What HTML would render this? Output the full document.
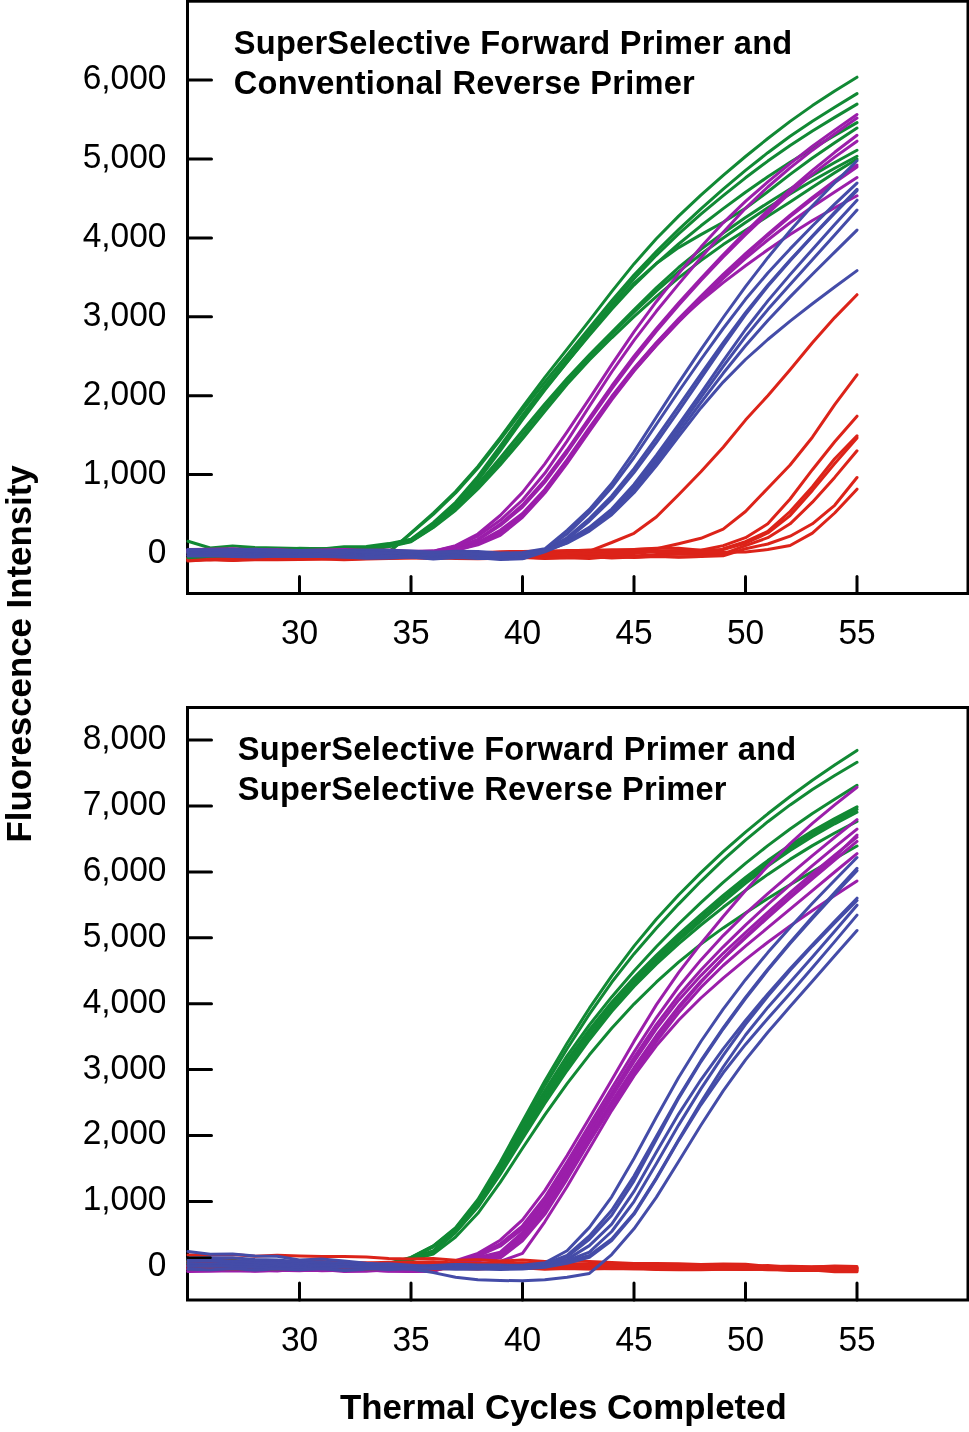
<!DOCTYPE html>
<html><head><meta charset="utf-8"><title>Fluorescence Intensity vs Thermal Cycles</title>
<style>
html,body{margin:0;padding:0;background:#fff;}
svg{display:block;}
.tk{font-family:"Liberation Sans",Arial,sans-serif;font-size:35px;fill:#000;}
.tt{font-family:"Liberation Sans",Arial,sans-serif;font-size:32.6px;font-weight:bold;fill:#000;letter-spacing:0.25px;}
.lab{font-family:"Liberation Sans",Arial,sans-serif;font-size:34.8px;font-weight:bold;fill:#000;}
</style></head>
<body>
<svg width="969" height="1432" viewBox="0 0 969 1432">
<rect width="969" height="1432" fill="#fff"/>
<rect x="187.5" y="1.2" width="780.5" height="592.3" fill="none" stroke="#000" stroke-width="3"/>
<line x1="187.5" y1="553.5" x2="211.5" y2="553.5" stroke="#000" stroke-width="3" stroke-linecap="round"/>
<text transform="translate(166.5 562.5) scale(0.957 1)" class="tk" text-anchor="end">0</text>
<line x1="187.5" y1="474.6" x2="211.5" y2="474.6" stroke="#000" stroke-width="3" stroke-linecap="round"/>
<text transform="translate(166.5 483.6) scale(0.957 1)" class="tk" text-anchor="end">1,000</text>
<line x1="187.5" y1="395.7" x2="211.5" y2="395.7" stroke="#000" stroke-width="3" stroke-linecap="round"/>
<text transform="translate(166.5 404.7) scale(0.957 1)" class="tk" text-anchor="end">2,000</text>
<line x1="187.5" y1="316.8" x2="211.5" y2="316.8" stroke="#000" stroke-width="3" stroke-linecap="round"/>
<text transform="translate(166.5 325.8) scale(0.957 1)" class="tk" text-anchor="end">3,000</text>
<line x1="187.5" y1="237.9" x2="211.5" y2="237.9" stroke="#000" stroke-width="3" stroke-linecap="round"/>
<text transform="translate(166.5 246.9) scale(0.957 1)" class="tk" text-anchor="end">4,000</text>
<line x1="187.5" y1="159.0" x2="211.5" y2="159.0" stroke="#000" stroke-width="3" stroke-linecap="round"/>
<text transform="translate(166.5 167.9) scale(0.957 1)" class="tk" text-anchor="end">5,000</text>
<line x1="187.5" y1="80.1" x2="211.5" y2="80.1" stroke="#000" stroke-width="3" stroke-linecap="round"/>
<text transform="translate(166.5 89.1) scale(0.957 1)" class="tk" text-anchor="end">6,000</text>
<line x1="299.5" y1="593.5" x2="299.5" y2="576.5" stroke="#000" stroke-width="3" stroke-linecap="round"/>
<text transform="translate(299.5 643.5) scale(0.957 1)" class="tk" text-anchor="middle">30</text>
<line x1="411.0" y1="593.5" x2="411.0" y2="576.5" stroke="#000" stroke-width="3" stroke-linecap="round"/>
<text transform="translate(411.0 643.5) scale(0.957 1)" class="tk" text-anchor="middle">35</text>
<line x1="522.5" y1="593.5" x2="522.5" y2="576.5" stroke="#000" stroke-width="3" stroke-linecap="round"/>
<text transform="translate(522.5 643.5) scale(0.957 1)" class="tk" text-anchor="middle">40</text>
<line x1="634.0" y1="593.5" x2="634.0" y2="576.5" stroke="#000" stroke-width="3" stroke-linecap="round"/>
<text transform="translate(634.0 643.5) scale(0.957 1)" class="tk" text-anchor="middle">45</text>
<line x1="745.5" y1="593.5" x2="745.5" y2="576.5" stroke="#000" stroke-width="3" stroke-linecap="round"/>
<text transform="translate(745.5 643.5) scale(0.957 1)" class="tk" text-anchor="middle">50</text>
<line x1="857.0" y1="593.5" x2="857.0" y2="576.5" stroke="#000" stroke-width="3" stroke-linecap="round"/>
<text transform="translate(857.0 643.5) scale(0.957 1)" class="tk" text-anchor="middle">55</text>
<polyline points="188.0,560.4 210.3,559.5 232.6,560.6 254.9,559.8 277.2,559.8 299.5,559.6 321.8,559.1 344.1,558.6 366.4,558.2 388.7,557.6 411.0,557.6 433.3,556.8 455.6,557.5 477.9,555.9 500.2,557.2 522.5,555.7 544.8,555.9 567.1,555.4 589.4,551.1 611.7,542.5 634.0,533.3 656.3,517.0 678.6,494.7 700.9,471.7 723.2,447.2 745.5,420.1 767.8,395.7 790.1,369.7 812.4,342.8 834.7,317.6 857.0,294.7" fill="none" stroke="#dc2319" stroke-width="3.0" stroke-linejoin="round" stroke-linecap="round"/>
<polyline points="188.0,559.5 210.3,559.8 232.6,558.3 254.9,558.1 277.2,557.6 299.5,557.3 321.8,557.0 344.1,555.7 366.4,555.9 388.7,555.4 411.0,554.3 433.3,553.9 455.6,554.2 477.9,553.0 500.2,553.1 522.5,551.5 544.8,550.9 567.1,551.0 589.4,549.9 611.7,550.8 634.0,549.5 656.3,548.8 678.6,543.7 700.9,538.3 723.2,529.2 745.5,511.5 767.8,488.2 790.1,465.0 812.4,437.2 834.7,404.6 857.0,374.8" fill="none" stroke="#dc2319" stroke-width="3.0" stroke-linejoin="round" stroke-linecap="round"/>
<polyline points="188.0,558.9 210.3,558.1 232.6,558.4 254.9,557.5 277.2,556.3 299.5,555.8 321.8,556.7 344.1,556.1 366.4,555.9 388.7,554.7 411.0,554.9 433.3,553.6 455.6,552.8 477.9,553.0 500.2,551.7 522.5,551.4 544.8,552.0 567.1,550.5 589.4,550.5 611.7,549.7 634.0,549.5 656.3,548.2 678.6,548.2 700.9,550.3 723.2,545.6 745.5,537.7 767.8,523.8 790.1,499.0 812.4,469.7 834.7,441.8 857.0,416.2" fill="none" stroke="#dc2319" stroke-width="3.0" stroke-linejoin="round" stroke-linecap="round"/>
<polyline points="188.0,557.7 210.3,558.5 232.6,557.6 254.9,558.0 277.2,558.0 299.5,558.9 321.8,557.4 344.1,559.1 366.4,558.6 388.7,558.2 411.0,557.5 433.3,558.6 455.6,557.2 477.9,556.9 500.2,558.4 522.5,557.6 544.8,558.6 567.1,557.8 589.4,558.4 611.7,556.6 634.0,557.6 656.3,556.5 678.6,556.8 700.9,556.6 723.2,548.8 745.5,541.7 767.8,531.4 790.1,511.5 812.4,486.7 834.7,458.8 857.0,435.9" fill="none" stroke="#dc2319" stroke-width="3.0" stroke-linejoin="round" stroke-linecap="round"/>
<polyline points="188.0,561.1 210.3,559.4 232.6,560.2 254.9,558.4 277.2,558.7 299.5,558.0 321.8,557.3 344.1,557.3 366.4,557.2 388.7,556.9 411.0,556.7 433.3,554.9 455.6,555.0 477.9,555.1 500.2,553.3 522.5,553.9 544.8,553.2 567.1,552.9 589.4,551.8 611.7,551.5 634.0,550.9 656.3,551.1 678.6,550.6 700.9,550.2 723.2,549.6 745.5,543.2 767.8,533.0 790.1,515.6 812.4,490.4 834.7,463.6 857.0,437.9" fill="none" stroke="#dc2319" stroke-width="3.0" stroke-linejoin="round" stroke-linecap="round"/>
<polyline points="188.0,558.3 210.3,559.1 232.6,558.0 254.9,559.3 277.2,559.0 299.5,557.9 321.8,557.8 344.1,557.8 366.4,557.8 388.7,557.0 411.0,557.2 433.3,556.4 455.6,556.6 477.9,556.3 500.2,556.0 522.5,555.1 544.8,555.3 567.1,555.8 589.4,554.8 611.7,554.7 634.0,555.9 656.3,554.5 678.6,554.1 700.9,554.0 723.2,553.9 745.5,545.6 767.8,537.7 790.1,523.8 812.4,502.2 834.7,477.4 857.0,450.8" fill="none" stroke="#dc2319" stroke-width="3.0" stroke-linejoin="round" stroke-linecap="round"/>
<polyline points="188.0,560.6 210.3,559.1 232.6,559.7 254.9,559.0 277.2,558.4 299.5,559.0 321.8,559.0 344.1,559.7 366.4,559.1 388.7,558.6 411.0,558.1 433.3,557.7 455.6,558.4 477.9,558.8 500.2,558.3 522.5,557.0 544.8,558.1 567.1,557.6 589.4,556.5 611.7,558.1 634.0,556.9 656.3,556.1 678.6,557.3 700.9,556.5 723.2,555.7 745.5,548.8 767.8,544.0 790.1,536.2 812.4,523.8 834.7,505.3 857.0,477.5" fill="none" stroke="#dc2319" stroke-width="3.0" stroke-linejoin="round" stroke-linecap="round"/>
<polyline points="188.0,558.7 210.3,558.2 232.6,558.0 254.9,558.4 277.2,558.6 299.5,558.7 321.8,557.5 344.1,557.3 366.4,556.7 388.7,556.4 411.0,556.0 433.3,555.6 455.6,554.9 477.9,554.7 500.2,554.5 522.5,554.5 544.8,554.5 567.1,552.8 589.4,553.7 611.7,553.6 634.0,553.5 656.3,551.5 678.6,552.7 700.9,552.0 723.2,552.2 745.5,551.9 767.8,549.6 790.1,545.5 812.4,533.1 834.7,513.0 857.0,489.2" fill="none" stroke="#dc2319" stroke-width="3.0" stroke-linejoin="round" stroke-linecap="round"/>
<polyline points="188.0,541.2 210.3,548.0 232.6,546.1 254.9,547.4 277.2,548.0 299.5,548.6 321.8,548.9 344.1,549.6 366.4,550.3 388.7,552.7 411.0,532.8 433.3,513.1 455.6,491.6 477.9,466.5 500.2,437.7 522.5,407.1 544.8,377.4 567.1,349.1 589.4,320.6 611.7,291.6 634.0,263.9 656.3,238.8 678.6,216.1 700.9,195.1 723.2,175.3 745.5,156.5 767.8,138.5 790.1,121.4 812.4,105.6 834.7,91.0 857.0,77.2" fill="none" stroke="#118934" stroke-width="3.0" stroke-linejoin="round" stroke-linecap="round"/>
<polyline points="188.0,550.8 210.3,551.3 232.6,550.5 254.9,549.2 277.2,549.2 299.5,548.6 321.8,549.4 344.1,547.4 366.4,551.1 388.7,551.9 411.0,533.4 433.3,514.3 455.6,493.0 477.9,468.0 500.2,439.8 522.5,410.3 544.8,382.0 567.1,355.2 589.4,328.0 611.7,300.8 634.0,275.1 656.3,251.6 678.6,229.6 700.9,208.8 723.2,189.1 745.5,170.4 767.8,152.7 790.1,136.3 812.4,121.3 834.7,107.3 857.0,93.6" fill="none" stroke="#118934" stroke-width="3.0" stroke-linejoin="round" stroke-linecap="round"/>
<polyline points="188.0,552.0 210.3,551.1 232.6,550.6 254.9,550.3 277.2,548.6 299.5,549.4 321.8,549.1 344.1,546.8 366.4,546.4 388.7,543.6 411.0,539.3 433.3,522.6 455.6,502.3 477.9,476.4 500.2,446.1 522.5,415.2 544.8,386.3 567.1,359.1 589.4,331.8 611.7,304.6 634.0,278.8 656.3,255.3 678.6,233.9 700.9,214.2 723.2,195.6 745.5,177.8 767.8,161.1 790.1,145.5 812.4,131.0 834.7,117.4 857.0,104.1" fill="none" stroke="#118934" stroke-width="3.0" stroke-linejoin="round" stroke-linecap="round"/>
<polyline points="188.0,552.8 210.3,550.8 232.6,551.6 254.9,550.0 277.2,550.6 299.5,548.3 321.8,548.7 344.1,548.5 366.4,547.2 388.7,544.4 411.0,539.7 433.3,523.8 455.6,504.1 477.9,478.8 500.2,448.9 522.5,417.9 544.8,389.0 567.1,362.0 589.4,335.3 611.7,309.2 634.0,285.1 656.3,263.6 678.6,244.0 700.9,225.8 723.2,208.6 745.5,192.2 767.8,176.8 790.1,162.3 812.4,148.6 834.7,135.4 857.0,122.6" fill="none" stroke="#118934" stroke-width="3.0" stroke-linejoin="round" stroke-linecap="round"/>
<polyline points="188.0,552.4 210.3,552.1 232.6,551.7 254.9,551.1 277.2,549.5 299.5,550.3 321.8,548.8 344.1,548.9 366.4,548.0 388.7,545.2 411.0,540.1 433.3,524.7 455.6,505.5 477.9,480.7 500.2,450.9 522.5,419.7 544.8,390.0 567.1,362.0 589.4,334.1 611.7,307.2 634.0,283.4 656.3,263.5 678.6,247.6 700.9,234.6 723.2,222.3 745.5,208.3 767.8,191.7 790.1,174.4 812.4,158.0 834.7,142.7 857.0,128.1" fill="none" stroke="#118934" stroke-width="3.0" stroke-linejoin="round" stroke-linecap="round"/>
<polyline points="188.0,552.3 210.3,552.0 232.6,550.8 254.9,551.7 277.2,549.9 299.5,550.2 321.8,550.0 344.1,549.3 366.4,548.8 388.7,545.6 411.0,540.9 433.3,526.0 455.6,507.5 477.9,484.2 500.2,457.9 522.5,430.7 544.8,403.9 567.1,378.5 589.4,354.9 611.7,332.3 634.0,309.8 656.3,287.8 678.6,267.5 700.9,249.4 723.2,233.0 745.5,217.5 767.8,202.9 790.1,188.9 812.4,175.4 834.7,162.5 857.0,150.2" fill="none" stroke="#118934" stroke-width="3.0" stroke-linejoin="round" stroke-linecap="round"/>
<polyline points="188.0,552.3 210.3,552.6 232.6,552.6 254.9,551.3 277.2,550.7 299.5,550.0 321.8,550.5 344.1,548.8 366.4,549.2 388.7,546.0 411.0,541.3 433.3,526.9 455.6,509.0 477.9,486.8 500.2,461.6 522.5,434.9 544.8,407.4 567.1,380.9 589.4,356.7 611.7,334.2 634.0,312.2 656.3,291.1 678.6,271.6 700.9,254.2 723.2,238.0 745.5,222.5 767.8,207.8 790.1,193.9 812.4,180.7 834.7,168.2 857.0,156.2" fill="none" stroke="#118934" stroke-width="3.0" stroke-linejoin="round" stroke-linecap="round"/>
<polyline points="188.0,557.7 210.3,556.3 232.6,555.7 254.9,555.6 277.2,555.3 299.5,554.9 321.8,555.2 344.1,554.3 366.4,549.9 388.7,546.8 411.0,541.7 433.3,527.6 455.6,510.2 477.9,489.0 500.2,465.0 522.5,438.8 544.8,411.2 567.1,384.3 589.4,360.0 611.7,337.8 634.0,316.7 656.3,296.6 678.6,277.9 700.9,260.6 723.2,244.6 745.5,230.2 767.8,216.3 790.1,202.0 812.4,187.2 834.7,172.8 857.0,159.0" fill="none" stroke="#118934" stroke-width="3.0" stroke-linejoin="round" stroke-linecap="round"/>
<polyline points="188.0,549.6 210.3,549.3 232.6,548.7 254.9,550.1 277.2,550.0 299.5,550.4 321.8,550.1 344.1,549.6 366.4,550.4 388.7,550.0 411.0,551.2 433.3,551.1 455.6,545.6 477.9,534.0 500.2,515.5 522.5,492.4 544.8,463.8 567.1,431.9 589.4,398.6 611.7,364.6 634.0,331.9 656.3,301.7 678.6,273.6 700.9,247.1 723.2,222.8 745.5,201.3 767.8,181.9 790.1,163.6 812.4,146.3 834.7,130.1 857.0,114.5" fill="none" stroke="#9b1eaa" stroke-width="3.0" stroke-linejoin="round" stroke-linecap="round"/>
<polyline points="188.0,550.1 210.3,549.7 232.6,550.0 254.9,549.3 277.2,550.8 299.5,550.6 321.8,550.9 344.1,550.3 366.4,551.3 388.7,550.4 411.0,552.1 433.3,551.1 455.6,546.4 477.9,536.1 500.2,520.3 522.5,500.0 544.8,473.3 567.1,441.1 589.4,406.3 611.7,372.0 634.0,340.3 656.3,311.3 678.6,284.1 700.9,257.8 723.2,232.2 745.5,208.3 767.8,187.0 790.1,167.9 812.4,150.2 834.7,133.7 857.0,118.1" fill="none" stroke="#9b1eaa" stroke-width="3.0" stroke-linejoin="round" stroke-linecap="round"/>
<polyline points="188.0,550.7 210.3,550.0 232.6,550.6 254.9,551.6 277.2,551.9 299.5,551.2 321.8,552.3 344.1,552.0 366.4,551.8 388.7,552.3 411.0,553.3 433.3,551.9 455.6,548.0 477.9,539.3 500.2,524.1 522.5,505.0 544.8,480.0 567.1,450.0 589.4,417.9 611.7,386.0 634.0,356.2 656.3,328.7 678.6,303.0 700.9,278.4 723.2,254.7 745.5,232.0 767.8,210.4 790.1,189.7 812.4,170.3 834.7,152.3 857.0,135.3" fill="none" stroke="#9b1eaa" stroke-width="3.0" stroke-linejoin="round" stroke-linecap="round"/>
<polyline points="188.0,551.1 210.3,551.7 232.6,551.3 254.9,552.9 277.2,552.8 299.5,552.3 321.8,551.9 344.1,553.4 366.4,553.9 388.7,553.6 411.0,553.8 433.3,551.9 455.6,548.8 477.9,540.1 500.2,525.6 522.5,507.0 544.8,482.3 567.1,452.5 589.4,420.5 611.7,388.9 634.0,359.0 656.3,331.2 678.6,305.2 700.9,280.5 723.2,257.0 745.5,234.8 767.8,213.4 790.1,192.9 812.4,174.1 834.7,157.1 857.0,141.2" fill="none" stroke="#9b1eaa" stroke-width="3.0" stroke-linejoin="round" stroke-linecap="round"/>
<polyline points="188.0,552.8 210.3,553.5 232.6,554.2 254.9,554.6 277.2,554.3 299.5,555.0 321.8,554.1 344.1,554.7 366.4,554.7 388.7,555.2 411.0,555.3 433.3,552.7 455.6,549.6 477.9,542.5 500.2,530.3 522.5,513.5 544.8,489.5 567.1,459.7 589.4,427.6 611.7,396.5 634.0,368.3 656.3,342.7 678.6,318.9 700.9,296.2 723.2,274.4 745.5,253.7 767.8,234.1 790.1,215.2 812.4,197.4 834.7,180.8 857.0,165.0" fill="none" stroke="#9b1eaa" stroke-width="3.0" stroke-linejoin="round" stroke-linecap="round"/>
<polyline points="188.0,555.0 210.3,554.8 232.6,554.5 254.9,554.6 277.2,554.6 299.5,556.1 321.8,556.1 344.1,555.8 366.4,555.5 388.7,556.7 411.0,556.9 433.3,552.7 455.6,549.6 477.9,543.2 500.2,531.6 522.5,515.0 544.8,491.1 567.1,461.2 589.4,429.2 611.7,398.4 634.0,370.6 656.3,345.5 678.6,322.0 700.9,299.6 723.2,278.3 745.5,258.4 767.8,240.0 790.1,222.8 812.4,206.8 834.7,191.9 857.0,177.6" fill="none" stroke="#9b1eaa" stroke-width="3.0" stroke-linejoin="round" stroke-linecap="round"/>
<polyline points="188.0,551.3 210.3,550.7 232.6,551.0 254.9,550.9 277.2,552.0 299.5,551.0 321.8,551.3 344.1,552.8 366.4,551.9 388.7,552.2 411.0,552.0 433.3,552.7 455.6,550.3 477.9,544.0 500.2,533.8 522.5,515.9 544.8,491.9 567.1,462.0 589.4,429.8 611.7,398.1 634.0,368.9 656.3,343.1 678.6,320.6 700.9,300.8 723.2,282.6 745.5,265.8 767.8,249.8 790.1,234.6 812.4,220.5 834.7,207.7 857.0,195.8" fill="none" stroke="#9b1eaa" stroke-width="3.0" stroke-linejoin="round" stroke-linecap="round"/>
<polyline points="188.0,549.5 210.3,550.0 232.6,551.0 254.9,550.6 277.2,550.0 299.5,550.7 321.8,551.5 344.1,550.4 366.4,550.3 388.7,550.5 411.0,552.1 433.3,552.7 455.6,550.3 477.9,544.8 500.2,535.4 522.5,517.3 544.8,493.1 567.1,463.4 589.4,431.4 611.7,399.9 634.0,371.1 656.3,345.2 678.6,321.2 700.9,298.5 723.2,276.5 745.5,255.4 767.8,235.5 790.1,216.7 812.4,199.0 834.7,182.5 857.0,166.9" fill="none" stroke="#9b1eaa" stroke-width="3.0" stroke-linejoin="round" stroke-linecap="round"/>
<polyline points="188.0,549.8 210.3,550.3 232.6,549.7 254.9,549.4 277.2,550.3 299.5,550.4 321.8,551.5 344.1,550.8 366.4,550.2 388.7,550.6 411.0,551.1 433.3,552.5 455.6,551.3 477.9,551.6 500.2,553.1 522.5,552.5 544.8,548.8 567.1,530.3 589.4,509.4 611.7,483.5 634.0,451.9 656.3,417.3 678.6,382.9 700.9,349.7 723.2,317.5 745.5,286.6 767.8,257.7 790.1,230.8 812.4,205.8 834.7,182.7 857.0,160.8" fill="none" stroke="#444ca8" stroke-width="3.0" stroke-linejoin="round" stroke-linecap="round"/>
<polyline points="188.0,551.0 210.3,550.1 232.6,551.3 254.9,551.0 277.2,552.2 299.5,550.7 321.8,551.0 344.1,552.9 366.4,551.4 388.7,553.2 411.0,553.1 433.3,552.7 455.6,552.3 477.9,552.8 500.2,554.6 522.5,553.9 544.8,549.6 567.1,533.8 589.4,512.5 611.7,487.5 634.0,457.5 656.3,424.5 678.6,391.5 700.9,359.5 723.2,328.5 745.5,299.3 767.8,273.0 790.1,248.9 812.4,226.0 834.7,204.1 857.0,183.1" fill="none" stroke="#444ca8" stroke-width="3.0" stroke-linejoin="round" stroke-linecap="round"/>
<polyline points="188.0,551.0 210.3,552.3 232.6,551.4 254.9,551.4 277.2,551.6 299.5,552.8 321.8,552.7 344.1,552.7 366.4,553.2 388.7,553.2 411.0,554.8 433.3,554.5 455.6,555.2 477.9,553.9 500.2,555.1 522.5,554.7 544.8,550.3 567.1,537.7 589.4,518.6 611.7,496.0 634.0,468.6 656.3,438.0 678.6,406.2 700.9,374.2 723.2,342.6 745.5,312.7 767.8,285.3 790.1,260.1 812.4,235.9 834.7,212.4 857.0,189.4" fill="none" stroke="#444ca8" stroke-width="3.0" stroke-linejoin="round" stroke-linecap="round"/>
<polyline points="188.0,552.7 210.3,552.4 232.6,552.5 254.9,554.4 277.2,554.0 299.5,553.0 321.8,554.1 344.1,554.7 366.4,554.5 388.7,555.4 411.0,554.5 433.3,555.6 455.6,555.5 477.9,556.7 500.2,555.7 522.5,556.8 544.8,550.3 567.1,539.3 589.4,521.0 611.7,499.2 634.0,472.6 656.3,442.6 678.6,411.0 700.9,378.5 723.2,345.8 745.5,314.6 767.8,286.3 790.1,260.7 812.4,236.5 834.7,213.2 857.0,190.6" fill="none" stroke="#444ca8" stroke-width="3.0" stroke-linejoin="round" stroke-linecap="round"/>
<polyline points="188.0,553.2 210.3,554.7 232.6,555.2 254.9,554.9 277.2,555.3 299.5,555.0 321.8,555.7 344.1,555.9 366.4,556.5 388.7,556.5 411.0,555.5 433.3,556.9 455.6,556.3 477.9,556.3 500.2,556.6 522.5,558.0 544.8,551.1 567.1,540.9 589.4,527.3 611.7,509.1 634.0,484.4 656.3,455.3 678.6,424.7 700.9,393.2 723.2,360.9 745.5,329.5 767.8,300.9 790.1,274.6 812.4,249.4 834.7,224.6 857.0,200.2" fill="none" stroke="#444ca8" stroke-width="3.0" stroke-linejoin="round" stroke-linecap="round"/>
<polyline points="188.0,555.2 210.3,554.9 232.6,555.1 254.9,556.3 277.2,555.9 299.5,556.4 321.8,555.7 344.1,557.0 366.4,557.4 388.7,556.0 411.0,556.9 433.3,558.1 455.6,557.1 477.9,558.4 500.2,558.5 522.5,558.6 544.8,551.1 567.1,541.7 589.4,528.9 611.7,511.5 634.0,487.6 656.3,459.1 678.6,428.7 700.9,397.5 723.2,366.3 745.5,336.6 767.8,309.6 790.1,284.4 812.4,259.7 834.7,234.9 857.0,210.1" fill="none" stroke="#444ca8" stroke-width="3.0" stroke-linejoin="round" stroke-linecap="round"/>
<polyline points="188.0,555.9 210.3,555.7 232.6,556.5 254.9,557.0 277.2,555.9 299.5,556.4 321.8,556.6 344.1,557.0 366.4,558.2 388.7,557.9 411.0,557.0 433.3,558.9 455.6,557.6 477.9,557.8 500.2,559.6 522.5,558.7 544.8,551.9 567.1,542.5 589.4,530.0 611.7,513.2 634.0,490.2 656.3,462.5 678.6,432.7 700.9,402.6 723.2,373.3 745.5,345.8 767.8,320.5 790.1,296.9 812.4,274.3 834.7,252.1 857.0,230.1" fill="none" stroke="#444ca8" stroke-width="3.0" stroke-linejoin="round" stroke-linecap="round"/>
<polyline points="188.0,549.7 210.3,550.2 232.6,549.7 254.9,551.3 277.2,550.2 299.5,550.7 321.8,551.1 344.1,550.7 366.4,552.3 388.7,553.0 411.0,552.1 433.3,551.9 455.6,552.3 477.9,553.9 500.2,554.0 522.5,553.9 544.8,551.1 567.1,543.2 589.4,531.1 611.7,514.8 634.0,492.7 656.3,465.9 678.6,436.6 700.9,407.9 723.2,382.1 745.5,359.5 767.8,339.5 790.1,321.1 812.4,303.7 834.7,287.0 857.0,270.6" fill="none" stroke="#444ca8" stroke-width="3.0" stroke-linejoin="round" stroke-linecap="round"/>
<text x="233.8" y="53.6" class="tt">SuperSelective Forward Primer and</text>
<text x="233.8" y="94.2" class="tt">Conventional Reverse Primer</text>
<rect x="187.5" y="707.5" width="780.5" height="592.5" fill="none" stroke="#000" stroke-width="3"/>
<line x1="187.5" y1="1267.3" x2="211.5" y2="1267.3" stroke="#000" stroke-width="3" stroke-linecap="round"/>
<text transform="translate(166.5 1276.2) scale(0.957 1)" class="tk" text-anchor="end">0</text>
<line x1="187.5" y1="1201.4" x2="211.5" y2="1201.4" stroke="#000" stroke-width="3" stroke-linecap="round"/>
<text transform="translate(166.5 1210.3) scale(0.957 1)" class="tk" text-anchor="end">1,000</text>
<line x1="187.5" y1="1135.5" x2="211.5" y2="1135.5" stroke="#000" stroke-width="3" stroke-linecap="round"/>
<text transform="translate(166.5 1144.4) scale(0.957 1)" class="tk" text-anchor="end">2,000</text>
<line x1="187.5" y1="1069.6" x2="211.5" y2="1069.6" stroke="#000" stroke-width="3" stroke-linecap="round"/>
<text transform="translate(166.5 1078.5) scale(0.957 1)" class="tk" text-anchor="end">3,000</text>
<line x1="187.5" y1="1003.7" x2="211.5" y2="1003.7" stroke="#000" stroke-width="3" stroke-linecap="round"/>
<text transform="translate(166.5 1012.6) scale(0.957 1)" class="tk" text-anchor="end">4,000</text>
<line x1="187.5" y1="937.8" x2="211.5" y2="937.8" stroke="#000" stroke-width="3" stroke-linecap="round"/>
<text transform="translate(166.5 946.8) scale(0.957 1)" class="tk" text-anchor="end">5,000</text>
<line x1="187.5" y1="871.9" x2="211.5" y2="871.9" stroke="#000" stroke-width="3" stroke-linecap="round"/>
<text transform="translate(166.5 880.9) scale(0.957 1)" class="tk" text-anchor="end">6,000</text>
<line x1="187.5" y1="806.0" x2="211.5" y2="806.0" stroke="#000" stroke-width="3" stroke-linecap="round"/>
<text transform="translate(166.5 815.0) scale(0.957 1)" class="tk" text-anchor="end">7,000</text>
<line x1="187.5" y1="740.1" x2="211.5" y2="740.1" stroke="#000" stroke-width="3" stroke-linecap="round"/>
<text transform="translate(166.5 749.0) scale(0.957 1)" class="tk" text-anchor="end">8,000</text>
<line x1="299.5" y1="1300.0" x2="299.5" y2="1283.0" stroke="#000" stroke-width="3" stroke-linecap="round"/>
<text transform="translate(299.5 1351.3) scale(0.957 1)" class="tk" text-anchor="middle">30</text>
<line x1="411.0" y1="1300.0" x2="411.0" y2="1283.0" stroke="#000" stroke-width="3" stroke-linecap="round"/>
<text transform="translate(411.0 1351.3) scale(0.957 1)" class="tk" text-anchor="middle">35</text>
<line x1="522.5" y1="1300.0" x2="522.5" y2="1283.0" stroke="#000" stroke-width="3" stroke-linecap="round"/>
<text transform="translate(522.5 1351.3) scale(0.957 1)" class="tk" text-anchor="middle">40</text>
<line x1="634.0" y1="1300.0" x2="634.0" y2="1283.0" stroke="#000" stroke-width="3" stroke-linecap="round"/>
<text transform="translate(634.0 1351.3) scale(0.957 1)" class="tk" text-anchor="middle">45</text>
<line x1="745.5" y1="1300.0" x2="745.5" y2="1283.0" stroke="#000" stroke-width="3" stroke-linecap="round"/>
<text transform="translate(745.5 1351.3) scale(0.957 1)" class="tk" text-anchor="middle">50</text>
<line x1="857.0" y1="1300.0" x2="857.0" y2="1283.0" stroke="#000" stroke-width="3" stroke-linecap="round"/>
<text transform="translate(857.0 1351.3) scale(0.957 1)" class="tk" text-anchor="middle">55</text>
<polyline points="188.0,1260.0 210.3,1261.1 232.6,1260.3 254.9,1262.5 277.2,1262.9 299.5,1262.4 321.8,1264.1 344.1,1263.6 366.4,1263.7 388.7,1263.3 411.0,1257.4 433.3,1245.8 455.6,1227.6 477.9,1199.4 500.2,1162.3 522.5,1121.4 544.8,1081.1 567.1,1043.3 589.4,1008.2 611.7,975.8 634.0,946.1 656.3,919.3 678.6,895.0 700.9,872.6 723.2,851.6 745.5,832.1 767.8,813.8 790.1,796.5 812.4,780.2 834.7,765.0 857.0,750.4" fill="none" stroke="#118934" stroke-width="3.0" stroke-linejoin="round" stroke-linecap="round"/>
<polyline points="188.0,1261.0 210.3,1260.2 232.6,1261.3 254.9,1262.3 277.2,1263.9 299.5,1264.5 321.8,1265.3 344.1,1264.0 366.4,1265.2 388.7,1264.0 411.0,1257.7 433.3,1246.2 455.6,1228.5 477.9,1200.9 500.2,1164.7 522.5,1124.8 544.8,1085.6 567.1,1048.7 589.4,1014.1 611.7,982.3 634.0,953.9 656.3,928.2 678.6,904.1 700.9,881.3 723.2,859.9 745.5,840.1 767.8,821.7 790.1,804.9 812.4,789.6 834.7,775.5 857.0,762.3" fill="none" stroke="#118934" stroke-width="3.0" stroke-linejoin="round" stroke-linecap="round"/>
<polyline points="188.0,1262.9 210.3,1262.2 232.6,1263.8 254.9,1264.0 277.2,1264.3 299.5,1263.5 321.8,1264.4 344.1,1265.2 366.4,1266.8 388.7,1264.7 411.0,1258.1 433.3,1246.8 455.6,1229.4 477.9,1202.5 500.2,1167.3 522.5,1128.6 544.8,1090.7 567.1,1055.9 589.4,1024.9 611.7,996.9 634.0,971.0 656.3,946.7 678.6,924.0 700.9,902.7 723.2,882.4 745.5,863.4 767.8,845.6 790.1,829.0 812.4,813.6 834.7,799.2 857.0,785.3" fill="none" stroke="#118934" stroke-width="3.0" stroke-linejoin="round" stroke-linecap="round"/>
<polyline points="188.0,1262.6 210.3,1264.7 232.6,1263.6 254.9,1264.9 277.2,1265.3 299.5,1265.1 321.8,1266.0 344.1,1266.3 366.4,1266.5 388.7,1264.7 411.0,1258.4 433.3,1250.8 455.6,1230.7 477.9,1203.9 500.2,1169.5 522.5,1131.7 544.8,1094.6 567.1,1060.2 589.4,1029.6 611.7,1002.3 634.0,977.8 656.3,955.3 678.6,934.3 700.9,914.5 723.2,895.5 745.5,877.5 767.8,860.6 790.1,845.1 812.4,831.1 834.7,818.5 857.0,806.8" fill="none" stroke="#118934" stroke-width="3.0" stroke-linejoin="round" stroke-linecap="round"/>
<polyline points="188.0,1262.8 210.3,1264.2 232.6,1265.2 254.9,1266.0 277.2,1265.5 299.5,1265.7 321.8,1267.1 344.1,1267.1 366.4,1267.6 388.7,1264.7 411.0,1258.7 433.3,1251.2 455.6,1231.4 477.9,1205.1 500.2,1171.5 522.5,1134.3 544.8,1097.8 567.1,1063.7 589.4,1032.9 611.7,1005.4 634.0,980.8 656.3,958.4 678.6,937.6 700.9,917.7 723.2,898.6 745.5,880.4 767.8,863.4 790.1,847.8 812.4,833.7 834.7,821.1 857.0,809.3" fill="none" stroke="#118934" stroke-width="3.0" stroke-linejoin="round" stroke-linecap="round"/>
<polyline points="188.0,1264.0 210.3,1264.6 232.6,1265.8 254.9,1264.8 277.2,1266.2 299.5,1264.9 321.8,1267.3 344.1,1266.6 366.4,1265.8 388.7,1265.3 411.0,1259.1 433.3,1251.5 455.6,1231.9 477.9,1206.1 500.2,1172.9 522.5,1136.6 544.8,1100.8 567.1,1067.3 589.4,1036.6 611.7,1008.7 634.0,983.7 656.3,961.2 678.6,940.4 700.9,920.9 723.2,901.9 745.5,883.4 767.8,866.1 790.1,850.4 812.4,836.4 834.7,823.8 857.0,812.2" fill="none" stroke="#118934" stroke-width="3.0" stroke-linejoin="round" stroke-linecap="round"/>
<polyline points="188.0,1265.6 210.3,1263.8 232.6,1264.6 254.9,1265.8 277.2,1265.2 299.5,1265.3 321.8,1265.9 344.1,1266.7 366.4,1266.3 388.7,1265.3 411.0,1259.4 433.3,1251.8 455.6,1232.6 477.9,1207.1 500.2,1174.4 522.5,1138.6 544.8,1103.5 567.1,1070.5 589.4,1039.7 611.7,1011.5 634.0,986.5 656.3,964.2 678.6,943.9 700.9,925.0 723.2,907.3 745.5,890.4 767.8,874.4 790.1,859.4 812.4,845.6 834.7,833.0 857.0,821.4" fill="none" stroke="#118934" stroke-width="3.0" stroke-linejoin="round" stroke-linecap="round"/>
<polyline points="188.0,1266.5 210.3,1264.6 232.6,1266.2 254.9,1266.4 277.2,1265.4 299.5,1266.7 321.8,1265.6 344.1,1266.8 366.4,1266.8 388.7,1265.3 411.0,1260.1 433.3,1254.1 455.6,1237.0 477.9,1213.3 500.2,1182.4 522.5,1148.3 544.8,1114.9 567.1,1083.7 589.4,1054.8 611.7,1028.2 634.0,1004.1 656.3,982.2 678.6,962.1 700.9,944.1 723.2,927.9 745.5,912.9 767.8,898.5 790.1,884.8 812.4,871.5 834.7,858.7 857.0,846.0" fill="none" stroke="#118934" stroke-width="3.0" stroke-linejoin="round" stroke-linecap="round"/>
<polyline points="188.0,1265.6 210.3,1267.5 232.6,1267.1 254.9,1266.8 277.2,1268.1 299.5,1266.9 321.8,1269.2 344.1,1269.0 366.4,1268.9 388.7,1269.6 411.0,1270.7 433.3,1270.6 455.6,1260.7 477.9,1253.4 500.2,1240.2 522.5,1219.9 544.8,1190.6 567.1,1155.5 589.4,1118.1 611.7,1079.9 634.0,1041.4 656.3,1004.9 678.6,972.6 700.9,943.7 723.2,916.5 745.5,890.5 767.8,866.0 790.1,843.5 812.4,823.3 834.7,804.9 857.0,787.3" fill="none" stroke="#9b1eaa" stroke-width="3.0" stroke-linejoin="round" stroke-linecap="round"/>
<polyline points="188.0,1266.5 210.3,1268.7 232.6,1268.5 254.9,1267.8 277.2,1269.3 299.5,1268.3 321.8,1269.9 344.1,1268.1 366.4,1268.3 388.7,1269.6 411.0,1269.6 433.3,1269.3 455.6,1261.4 477.9,1254.8 500.2,1243.9 522.5,1225.8 544.8,1197.5 567.1,1162.1 589.4,1125.0 611.7,1088.3 634.0,1052.1 656.3,1017.8 678.6,987.0 700.9,959.9 723.2,935.6 745.5,913.7 767.8,893.6 790.1,874.4 812.4,855.7 834.7,837.4 857.0,819.6" fill="none" stroke="#9b1eaa" stroke-width="3.0" stroke-linejoin="round" stroke-linecap="round"/>
<polyline points="188.0,1267.8 210.3,1268.7 232.6,1269.1 254.9,1269.6 277.2,1269.2 299.5,1269.5 321.8,1269.0 344.1,1270.6 366.4,1270.3 388.7,1270.8 411.0,1271.5 433.3,1271.2 455.6,1262.7 477.9,1256.1 500.2,1246.2 522.5,1229.0 544.8,1201.3 567.1,1166.3 589.4,1129.4 611.7,1093.1 634.0,1057.6 656.3,1024.6 678.6,995.5 700.9,970.0 723.2,946.8 745.5,925.1 767.8,904.5 790.1,884.8 812.4,865.6 834.7,847.1 857.0,829.1" fill="none" stroke="#9b1eaa" stroke-width="3.0" stroke-linejoin="round" stroke-linecap="round"/>
<polyline points="188.0,1269.8 210.3,1270.0 232.6,1270.5 254.9,1269.8 277.2,1271.0 299.5,1268.8 321.8,1269.3 344.1,1269.5 366.4,1269.7 388.7,1271.3 411.0,1270.5 433.3,1270.5 455.6,1263.3 477.9,1257.4 500.2,1252.1 522.5,1232.5 544.8,1204.8 567.1,1169.8 589.4,1132.9 611.7,1096.9 634.0,1061.7 656.3,1028.8 678.6,1000.2 700.9,975.6 723.2,953.3 745.5,932.5 767.8,912.3 790.1,892.7 812.4,873.6 834.7,855.1 857.0,837.1" fill="none" stroke="#9b1eaa" stroke-width="3.0" stroke-linejoin="round" stroke-linecap="round"/>
<polyline points="188.0,1271.2 210.3,1269.1 232.6,1270.3 254.9,1270.9 277.2,1270.2 299.5,1270.8 321.8,1269.4 344.1,1271.4 366.4,1271.2 388.7,1269.6 411.0,1271.3 433.3,1269.6 455.6,1264.0 477.9,1258.7 500.2,1254.1 522.5,1235.6 544.8,1208.5 567.1,1173.6 589.4,1136.9 611.7,1101.7 634.0,1067.7 656.3,1035.5 678.6,1006.6 700.9,981.3 723.2,958.7 745.5,937.8 767.8,917.6 790.1,897.9 812.4,878.8 834.7,860.0 857.0,841.4" fill="none" stroke="#9b1eaa" stroke-width="3.0" stroke-linejoin="round" stroke-linecap="round"/>
<polyline points="188.0,1268.8 210.3,1270.4 232.6,1269.6 254.9,1270.8 277.2,1270.4 299.5,1269.4 321.8,1270.7 344.1,1270.3 366.4,1269.3 388.7,1270.5 411.0,1270.7 433.3,1271.2 455.6,1264.7 477.9,1260.1 500.2,1256.1 522.5,1238.6 544.8,1212.0 567.1,1177.1 589.4,1140.6 611.7,1106.0 634.0,1073.0 656.3,1041.6 678.6,1012.8 700.9,987.4 723.2,965.5 745.5,946.1 767.8,927.7 790.1,909.2 812.4,890.6 834.7,872.0 857.0,853.7" fill="none" stroke="#9b1eaa" stroke-width="3.0" stroke-linejoin="round" stroke-linecap="round"/>
<polyline points="188.0,1271.6 210.3,1271.2 232.6,1270.8 254.9,1271.0 277.2,1270.4 299.5,1270.5 321.8,1269.9 344.1,1269.6 366.4,1270.5 388.7,1270.8 411.0,1271.6 433.3,1269.6 455.6,1266.6 477.9,1264.0 500.2,1261.4 522.5,1253.4 544.8,1221.8 567.1,1186.5 589.4,1148.4 611.7,1110.6 634.0,1075.9 656.3,1045.8 678.6,1020.2 700.9,998.0 723.2,978.1 745.5,959.6 767.8,942.2 790.1,925.9 812.4,910.4 834.7,895.6 857.0,881.0" fill="none" stroke="#9b1eaa" stroke-width="3.0" stroke-linejoin="round" stroke-linecap="round"/>
<polyline points="188.0,1269.6 210.3,1269.5 232.6,1269.5 254.9,1270.7 277.2,1269.6 299.5,1270.4 321.8,1270.5 344.1,1270.5 366.4,1269.6 388.7,1269.4 411.0,1269.9 433.3,1270.9 455.6,1265.3 477.9,1260.7 500.2,1258.1 522.5,1240.9 544.8,1214.4 567.1,1179.1 589.4,1141.7 611.7,1105.7 634.0,1071.0 656.3,1038.3 678.6,1008.6 700.9,982.2 723.2,958.4 745.5,936.4 767.8,915.8 790.1,896.2 812.4,876.9 834.7,856.7 857.0,835.0" fill="none" stroke="#9b1eaa" stroke-width="3.0" stroke-linejoin="round" stroke-linecap="round"/>
<polyline points="188.0,1254.9 210.3,1255.0 232.6,1254.6 254.9,1256.2 277.2,1255.3 299.5,1255.9 321.8,1256.5 344.1,1256.4 366.4,1257.1 388.7,1258.6 411.0,1258.9 433.3,1258.6 455.6,1260.2 477.9,1259.7 500.2,1261.0 522.5,1260.0 544.8,1261.6 567.1,1260.8 589.4,1261.5 611.7,1262.6 634.0,1263.4 656.3,1263.6 678.6,1263.7 700.9,1264.6 723.2,1264.0 745.5,1264.3 767.8,1266.4 790.1,1266.3 812.4,1266.7 834.7,1266.6 857.0,1268.1" fill="none" stroke="#dc2319" stroke-width="3.0" stroke-linejoin="round" stroke-linecap="round"/>
<polyline points="188.0,1261.4 210.3,1260.5 232.6,1261.0 254.9,1261.5 277.2,1261.6 299.5,1261.4 321.8,1261.4 344.1,1262.5 366.4,1262.9 388.7,1262.3 411.0,1262.6 433.3,1261.8 455.6,1263.0 477.9,1263.5 500.2,1263.3 522.5,1263.1 544.8,1263.5 567.1,1263.5 589.4,1264.2 611.7,1264.5 634.0,1265.3 656.3,1266.1 678.6,1265.4 700.9,1266.4 723.2,1266.2 745.5,1267.2 767.8,1268.0 790.1,1268.4 812.4,1268.0 834.7,1267.9 857.0,1268.1" fill="none" stroke="#dc2319" stroke-width="3.0" stroke-linejoin="round" stroke-linecap="round"/>
<polyline points="188.0,1261.8 210.3,1262.1 232.6,1262.4 254.9,1262.4 277.2,1262.7 299.5,1263.4 321.8,1263.6 344.1,1263.1 366.4,1262.9 388.7,1264.0 411.0,1264.0 433.3,1263.8 455.6,1264.6 477.9,1263.6 500.2,1265.1 522.5,1264.5 544.8,1265.4 567.1,1264.6 589.4,1264.9 611.7,1266.7 634.0,1265.4 656.3,1267.5 678.6,1267.8 700.9,1267.2 723.2,1268.5 745.5,1268.3 767.8,1268.9 790.1,1269.0 812.4,1268.1 834.7,1268.5 857.0,1269.0" fill="none" stroke="#dc2319" stroke-width="3.0" stroke-linejoin="round" stroke-linecap="round"/>
<polyline points="188.0,1265.2 210.3,1264.2 232.6,1264.2 254.9,1265.2 277.2,1265.5 299.5,1264.5 321.8,1264.8 344.1,1265.0 366.4,1265.0 388.7,1266.2 411.0,1264.9 433.3,1265.7 455.6,1266.5 477.9,1266.5 500.2,1266.2 522.5,1266.9 544.8,1265.9 567.1,1267.4 589.4,1267.0 611.7,1266.6 634.0,1268.4 656.3,1267.8 678.6,1267.6 700.9,1267.9 723.2,1269.0 745.5,1269.2 767.8,1268.7 790.1,1270.6 812.4,1270.6 834.7,1270.5 857.0,1270.4" fill="none" stroke="#dc2319" stroke-width="3.0" stroke-linejoin="round" stroke-linecap="round"/>
<polyline points="188.0,1267.2 210.3,1268.1 232.6,1266.6 254.9,1266.5 277.2,1267.0 299.5,1267.2 321.8,1267.9 344.1,1267.1 366.4,1267.5 388.7,1266.5 411.0,1267.0 433.3,1267.0 455.6,1266.5 477.9,1267.0 500.2,1267.8 522.5,1267.8 544.8,1268.1 567.1,1268.6 589.4,1268.7 611.7,1267.9 634.0,1267.7 656.3,1269.5 678.6,1269.7 700.9,1269.8 723.2,1269.2 745.5,1269.0 767.8,1269.7 790.1,1270.1 812.4,1269.9 834.7,1271.8 857.0,1271.8" fill="none" stroke="#dc2319" stroke-width="3.0" stroke-linejoin="round" stroke-linecap="round"/>
<polyline points="188.0,1269.0 210.3,1268.0 232.6,1268.9 254.9,1269.2 277.2,1269.3 299.5,1267.8 321.8,1267.9 344.1,1268.0 366.4,1269.4 388.7,1268.1 411.0,1268.0 433.3,1269.2 455.6,1268.3 477.9,1268.9 500.2,1268.0 522.5,1267.8 544.8,1269.3 567.1,1268.2 589.4,1269.1 611.7,1268.2 634.0,1268.7 656.3,1269.2 678.6,1268.9 700.9,1269.5 723.2,1268.9 745.5,1269.4 767.8,1269.1 790.1,1269.4 812.4,1269.3 834.7,1270.2 857.0,1270.7" fill="none" stroke="#dc2319" stroke-width="3.0" stroke-linejoin="round" stroke-linecap="round"/>
<polyline points="188.0,1268.5 210.3,1268.8 232.6,1268.5 254.9,1269.4 277.2,1269.3 299.5,1267.9 321.8,1268.5 344.1,1268.0 366.4,1268.4 388.7,1267.6 411.0,1267.7 433.3,1266.9 455.6,1266.5 477.9,1266.8 500.2,1267.2 522.5,1267.0 544.8,1266.3 567.1,1267.0 589.4,1267.7 611.7,1266.5 634.0,1267.2 656.3,1267.8 678.6,1268.1 700.9,1267.7 723.2,1268.2 745.5,1267.1 767.8,1268.4 790.1,1267.8 812.4,1268.0 834.7,1268.5 857.0,1267.9" fill="none" stroke="#dc2319" stroke-width="3.0" stroke-linejoin="round" stroke-linecap="round"/>
<polyline points="188.0,1264.2 210.3,1263.1 232.6,1263.1 254.9,1263.2 277.2,1263.0 299.5,1264.1 321.8,1263.5 344.1,1264.7 366.4,1265.2 388.7,1264.6 411.0,1264.4 433.3,1264.0 455.6,1264.5 477.9,1265.5 500.2,1265.2 522.5,1265.0 544.8,1265.8 567.1,1264.8 589.4,1264.9 611.7,1265.6 634.0,1266.3 656.3,1265.1 678.6,1266.1 700.9,1266.7 723.2,1266.4 745.5,1266.5 767.8,1265.6 790.1,1267.3 812.4,1267.0 834.7,1266.0 857.0,1266.5" fill="none" stroke="#dc2319" stroke-width="3.0" stroke-linejoin="round" stroke-linecap="round"/>
<polyline points="188.0,1266.0 210.3,1266.2 232.6,1266.2 254.9,1267.0 277.2,1265.9 299.5,1267.0 321.8,1266.3 344.1,1266.3 366.4,1267.9 388.7,1267.7 411.0,1266.9 433.3,1266.8 455.6,1267.0 477.9,1267.7 500.2,1267.7 522.5,1267.9 544.8,1268.4 567.1,1268.7 589.4,1268.5 611.7,1268.7 634.0,1268.8 656.3,1268.5 678.6,1268.4 700.9,1269.4 723.2,1267.7 745.5,1268.0 767.8,1268.1 790.1,1268.3 812.4,1268.0 834.7,1268.0 857.0,1269.7" fill="none" stroke="#dc2319" stroke-width="3.0" stroke-linejoin="round" stroke-linecap="round"/>
<polyline points="188.0,1251.4 210.3,1254.2 232.6,1253.9 254.9,1256.1 277.2,1256.3 299.5,1259.9 321.8,1259.0 344.1,1261.1 366.4,1263.2 388.7,1264.4 411.0,1266.2 433.3,1265.4 455.6,1264.4 477.9,1265.4 500.2,1265.4 522.5,1265.3 544.8,1262.7 567.1,1250.8 589.4,1227.4 611.7,1196.8 634.0,1158.5 656.3,1117.2 678.6,1077.5 700.9,1041.5 723.2,1009.1 745.5,979.7 767.8,952.6 790.1,927.4 812.4,903.3 834.7,880.2 857.0,857.5" fill="none" stroke="#444ca8" stroke-width="3.0" stroke-linejoin="round" stroke-linecap="round"/>
<polyline points="188.0,1257.9 210.3,1257.7 232.6,1257.7 254.9,1259.6 277.2,1260.0 299.5,1261.7 321.8,1262.0 344.1,1263.6 366.4,1264.5 388.7,1263.7 411.0,1265.3 433.3,1266.8 455.6,1264.5 477.9,1265.1 500.2,1265.1 522.5,1265.9 544.8,1264.0 567.1,1255.4 589.4,1235.9 611.7,1210.3 634.0,1176.1 656.3,1136.5 678.6,1097.0 700.9,1060.7 723.2,1027.8 745.5,997.4 767.8,969.1 790.1,942.4 812.4,917.1 834.7,892.5 857.0,868.3" fill="none" stroke="#444ca8" stroke-width="3.0" stroke-linejoin="round" stroke-linecap="round"/>
<polyline points="188.0,1258.6 210.3,1259.7 232.6,1261.3 254.9,1260.9 277.2,1262.6 299.5,1262.5 321.8,1263.9 344.1,1263.9 366.4,1264.7 388.7,1266.2 411.0,1267.3 433.3,1266.4 455.6,1265.7 477.9,1265.9 500.2,1265.5 522.5,1266.4 544.8,1264.7 567.1,1256.8 589.4,1239.2 611.7,1215.2 634.0,1180.9 656.3,1139.5 678.6,1098.4 700.9,1061.8 723.2,1029.0 745.5,998.6 767.8,970.1 790.1,943.5 812.4,918.4 834.7,894.3 857.0,870.6" fill="none" stroke="#444ca8" stroke-width="3.0" stroke-linejoin="round" stroke-linecap="round"/>
<polyline points="188.0,1261.0 210.3,1261.2 232.6,1261.7 254.9,1262.7 277.2,1263.3 299.5,1264.3 321.8,1264.9 344.1,1265.6 366.4,1265.6 388.7,1266.6 411.0,1266.5 433.3,1266.9 455.6,1266.8 477.9,1267.8 500.2,1268.1 522.5,1267.7 544.8,1265.3 567.1,1259.4 589.4,1245.6 611.7,1224.1 634.0,1191.4 656.3,1152.2 678.6,1114.1 700.9,1079.8 723.2,1048.9 745.5,1020.5 767.8,993.9 790.1,968.7 812.4,944.7 834.7,921.3 857.0,898.2" fill="none" stroke="#444ca8" stroke-width="3.0" stroke-linejoin="round" stroke-linecap="round"/>
<polyline points="188.0,1263.4 210.3,1264.3 232.6,1264.1 254.9,1264.8 277.2,1265.0 299.5,1265.8 321.8,1265.0 344.1,1265.3 366.4,1266.3 388.7,1267.5 411.0,1267.9 433.3,1267.3 455.6,1268.2 477.9,1267.2 500.2,1267.3 522.5,1266.9 544.8,1266.0 567.1,1260.7 589.4,1252.1 611.7,1231.5 634.0,1201.6 656.3,1163.8 678.6,1125.1 700.9,1088.9 723.2,1055.3 745.5,1024.4 767.8,996.2 790.1,970.3 812.4,946.1 834.7,923.0 857.0,900.5" fill="none" stroke="#444ca8" stroke-width="3.0" stroke-linejoin="round" stroke-linecap="round"/>
<polyline points="188.0,1265.5 210.3,1265.9 232.6,1265.6 254.9,1265.2 277.2,1266.7 299.5,1266.9 321.8,1266.0 344.1,1266.8 366.4,1267.3 388.7,1267.7 411.0,1268.9 433.3,1267.2 455.6,1268.4 477.9,1269.1 500.2,1267.5 522.5,1267.0 544.8,1266.6 567.1,1262.0 589.4,1255.4 611.7,1239.0 634.0,1213.3 656.3,1178.1 678.6,1139.7 700.9,1102.3 723.2,1067.0 745.5,1035.0 767.8,1007.4 790.1,982.3 812.4,957.1 834.7,931.3 857.0,905.2" fill="none" stroke="#444ca8" stroke-width="3.0" stroke-linejoin="round" stroke-linecap="round"/>
<polyline points="188.0,1266.5 210.3,1266.0 232.6,1266.6 254.9,1267.6 277.2,1268.5 299.5,1267.9 321.8,1268.5 344.1,1267.0 366.4,1267.7 388.7,1269.5 411.0,1267.9 433.3,1268.4 455.6,1269.2 477.9,1269.1 500.2,1269.4 522.5,1269.0 544.8,1267.3 567.1,1263.3 589.4,1257.4 611.7,1240.5 634.0,1214.4 656.3,1178.9 678.6,1140.6 700.9,1104.8 723.2,1072.8 745.5,1044.4 767.8,1018.5 790.1,993.4 812.4,967.8 834.7,941.6 857.0,915.1" fill="none" stroke="#444ca8" stroke-width="3.0" stroke-linejoin="round" stroke-linecap="round"/>
<polyline points="188.0,1269.2 210.3,1269.8 232.6,1268.7 254.9,1269.9 277.2,1268.9 299.5,1269.8 321.8,1268.7 344.1,1270.5 366.4,1269.2 388.7,1268.8 411.0,1269.1 433.3,1272.6 455.6,1277.2 477.9,1279.8 500.2,1280.5 522.5,1280.8 544.8,1279.8 567.1,1277.2 589.4,1273.4 611.7,1254.6 634.0,1228.8 656.3,1197.4 678.6,1161.5 700.9,1125.2 723.2,1090.9 745.5,1059.9 767.8,1032.3 790.1,1006.6 812.4,981.2 834.7,955.8 857.0,930.5" fill="none" stroke="#444ca8" stroke-width="3.0" stroke-linejoin="round" stroke-linecap="round"/>
<line x1="187.5" y1="1257.8" x2="210.5" y2="1257.8" stroke="#000" stroke-width="2.6" stroke-linecap="round"/>
<text x="237.8" y="760.3" class="tt">SuperSelective Forward Primer and</text>
<text x="237.8" y="800.4" class="tt">SuperSelective Reverse Primer</text>
<text x="31" y="842.5" class="lab" transform="rotate(-90 31 842.5)">Fluorescence Intensity</text>
<text x="340" y="1419" class="lab">Thermal Cycles Completed</text>
</svg>
</body></html>
